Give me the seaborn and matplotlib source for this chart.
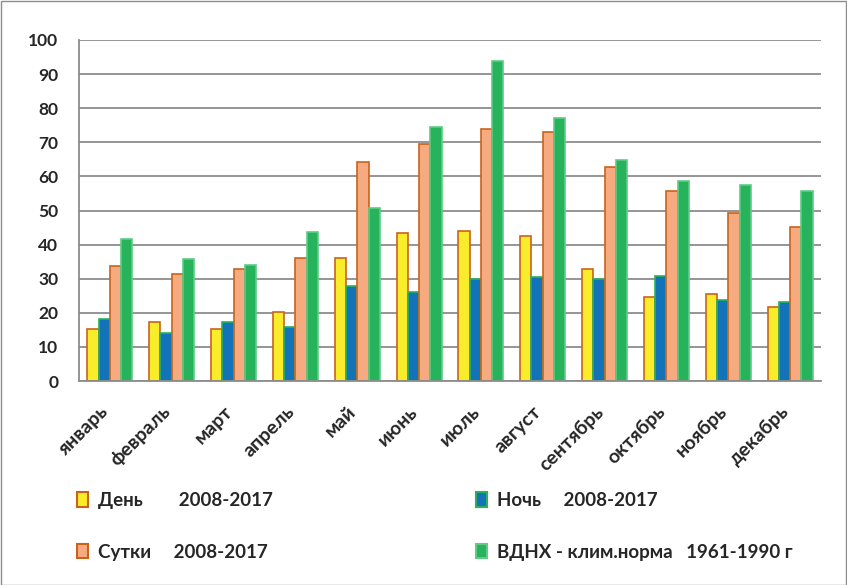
import matplotlib
matplotlib.use("Agg")
import matplotlib.pyplot as plt
import matplotlib.transforms as mtransforms
from matplotlib.patches import Rectangle
import pandas as pd
import seaborn as sns

months = ["январь", "февраль", "март", "апрель", "май", "июнь",
          "июль", "август", "сентябрь", "октябрь", "ноябрь", "декабрь"]
series_names = ["День        2008-2017", "Ночь     2008-2017",
                "Сутки     2008-2017", "ВДНХ - клим.норма   1961-1990 г"]
day = [15.3, 17.3, 15.3, 20.2, 36.2, 43.5, 43.9, 42.5, 32.8, 24.7, 25.5, 21.7]
night = [18.3, 14.0, 17.4, 15.9, 28.0, 26.1, 29.9, 30.4, 29.9, 30.9, 23.7, 23.2]
daily = [33.8, 31.4, 32.9, 36.2, 64.2, 69.5, 74.0, 72.9, 62.9, 55.6, 49.3, 45.3]
norm = [41.6, 35.9, 33.9, 43.6, 50.8, 74.6, 93.9, 77.0, 64.8, 58.6, 57.6, 55.8]
y_ticks = [0, 10, 20, 30, 40, 50, 60, 70, 80, 90, 100]

face_colors = ["#F9EC2B", "#1373B9", "#F5AB7F", "#27B35B"]
edge_colors = ["#C9631C", "#2BB15C", "#C9631C", "#5FCB86"]

records = []
for name, vals in zip(series_names, [day, night, daily, norm]):
    for m, v in zip(months, vals):
        records.append({"month": m, "series": name, "value": v})
df = pd.DataFrame(records)

sns.set_style("white")
plt.rcParams["font.family"] = ["Lato", "DejaVu Sans"]
plt.rcParams["font.weight"] = "bold"

fig = plt.figure(figsize=(8.47, 5.85), dpi=100)
ax = fig.add_axes([79 / 847, 1 - 381 / 585, 742 / 847, 341 / 585])

sns.barplot(data=df, x="month", y="value", hue="series", order=months,
            hue_order=series_names, palette=face_colors, width=0.73,
            gap=0, dodge=True, ax=ax, legend=False, saturation=1)

for cont, ec in zip(ax.containers, edge_colors):
    for bar in cont:
        bar.set_edgecolor(ec)
        bar.set_linewidth(1.2)

ax.set_ylim(0, 100)
ax.set_xlim(-0.5, 11.5)
ax.set_yticks(y_ticks)
ax.yaxis.grid(True, color="#8C8C8C", linewidth=1.3)
ax.set_axisbelow(True)
ax.set_xlabel("")
ax.set_ylabel("")

for side in ["top", "right"]:
    ax.spines[side].set_visible(False)
for side in ["left", "bottom"]:
    ax.spines[side].set_color("#8C8C8C")
    ax.spines[side].set_linewidth(1.3)

ax.tick_params(axis="y", direction="out", length=5, width=1.3, color="#8C8C8C",
               labelsize=12.5, pad=10)
# category boundary ticks on the x axis
ax.set_xticks([i - 0.5 for i in range(13)], minor=True)
ax.tick_params(axis="x", which="minor", direction="out", length=5, width=1.3,
               color="#8C8C8C")
ax.tick_params(axis="x", which="major", length=0, labelsize=14, pad=20)
ax.set_xticks(range(len(months)))
ax.set_xticklabels(months, rotation=45, ha="right", va="center",
                   rotation_mode="anchor", fontweight="bold")
shift = mtransforms.ScaledTranslation(-4 / 100, 0, fig.dpi_scale_trans)
for lab in ax.get_xticklabels():
    lab.set_transform(lab.get_transform() + shift)
for lab in ax.get_yticklabels():
    lab.set_fontweight("bold")

handles = [Rectangle((0, 0), 1, 1, facecolor=fc, edgecolor=ec, linewidth=1.5)
           for fc, ec in zip(face_colors, edge_colors)]
order = [0, 2, 1, 3]
fig.legend([handles[i] for i in order], [series_names[i] for i in order],
           ncol=2, loc="upper left", bbox_to_anchor=(60 / 847, 1 - 475 / 585),
           frameon=False, handlelength=0.6, handleheight=0.8, handletextpad=0.55,
           labelspacing=1.85, columnspacing=10.8,
           prop={"weight": "bold", "size": 13.5})

fig.patches.append(Rectangle((0.5 / 847, 0.5 / 585), 845.5 / 847, 583.5 / 585,
                             transform=fig.transFigure, fill=False,
                             edgecolor="#8C8C8C", linewidth=1.0))

fig.savefig("out.png", dpi=100)
